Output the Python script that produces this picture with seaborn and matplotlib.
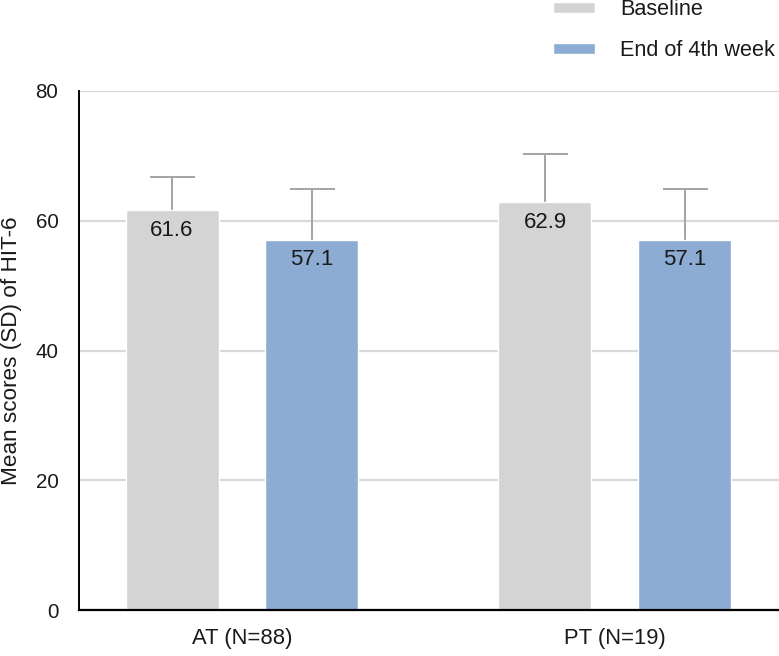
import numpy as np
import pandas as pd
import matplotlib
matplotlib.use("Agg")
import matplotlib.pyplot as plt
import seaborn as sns

# values
groups = ["AT (N=88)", "PT (N=19)"]
conditions = ["Baseline", "End of 4th week"]
baseline_mean = [61.6, 62.9]
baseline_sd = [5.1, 7.4]
week4_mean = [57.1, 57.1]
week4_sd = [7.8, 7.8]
yticks = [0, 20, 40, 60, 80]

colors = {"Baseline": "#d4d4d4", "End of 4th week": "#8dacd4"}

df = pd.DataFrame({
    "group": groups * 2,
    "condition": [conditions[0]] * 2 + [conditions[1]] * 2,
    "mean": baseline_mean + week4_mean,
    "sd": baseline_sd + week4_sd,
})

sns.set_style("white")
plt.rcParams["font.family"] = ["Liberation Sans", "DejaVu Sans"]
plt.rcParams["text.color"] = "#1a1a1a"
plt.rcParams["axes.labelcolor"] = "#1a1a1a"
plt.rcParams["xtick.labelcolor"] = "#1a1a1a"
plt.rcParams["ytick.labelcolor"] = "#1a1a1a"

fig = plt.figure(figsize=(7.79, 6.56), dpi=100)
ax = fig.add_axes([0.1014, 0.0701, 0.8986, 0.7912])

sns.barplot(data=df, x="group", y="mean", hue="condition", order=groups,
            hue_order=conditions, palette=colors, width=0.75, gap=0.335,
            errorbar=None, saturation=1, ax=ax)

# match bars (left to right) with the data rows
bars = [p for p in ax.patches if p.get_width() > 0 and p.get_height() > 0]
bars = sorted(bars, key=lambda p: p.get_x())
ordered = df.assign(g=df["group"].map(groups.index),
                    c=df["condition"].map(conditions.index)).sort_values(["g", "c"])
xs = [p.get_x() + p.get_width() / 2 for p in bars]

# upper SD only
eb = ax.errorbar(xs, ordered["mean"], yerr=[np.zeros(len(xs)), ordered["sd"]],
                 fmt="none", ecolor="#a3a3a3", elinewidth=1.4, capsize=16.2,
                 capthick=1.4, zorder=1)
eb[1][0].set_visible(False)  # lower caps

for x, m in zip(xs, ordered["mean"]):
    ax.annotate(f"{m:.1f}", (x, m), xytext=(0, -14.5), textcoords="offset points",
                ha="center", va="center", fontsize=16)

ax.set_ylim(0, 80)
ax.set_xlim(-0.437, 1.44)
ax.set_yticks(yticks)
ax.yaxis.grid(True, color="#d9d9d9", linewidth=1.6)
ax.set_axisbelow(True)
for b in bars:
    b.set_zorder(2)

sns.despine(ax=ax)
ax.spines["left"].set_color("black")
ax.spines["left"].set_linewidth(1.4)
ax.spines["bottom"].set_color("black")
ax.spines["bottom"].set_linewidth(1.6)
ax.tick_params(axis="y", length=10.8, width=1.3, color="black", labelsize=14.8, pad=4)
ax.tick_params(axis="x", length=0, labelsize=15.8, pad=13)

ax.set_xlabel("")
ax.set_ylabel("Mean scores (SD) of HIT-6", fontsize=16.2)
ax.yaxis.label.set_va("center")
ax.yaxis.set_label_coords(-0.0965, 0.5)

sns.move_legend(ax, "upper left", bbox_to_anchor=(553 / 779, 1.001),
                bbox_transform=fig.transFigure, frameon=False, title=None,
                fontsize=15.6, handlelength=1.95, handleheight=0.41,
                handletextpad=1.15, labelspacing=0.9, borderpad=0,
                borderaxespad=0)

fig.savefig("out.png", dpi=100)
